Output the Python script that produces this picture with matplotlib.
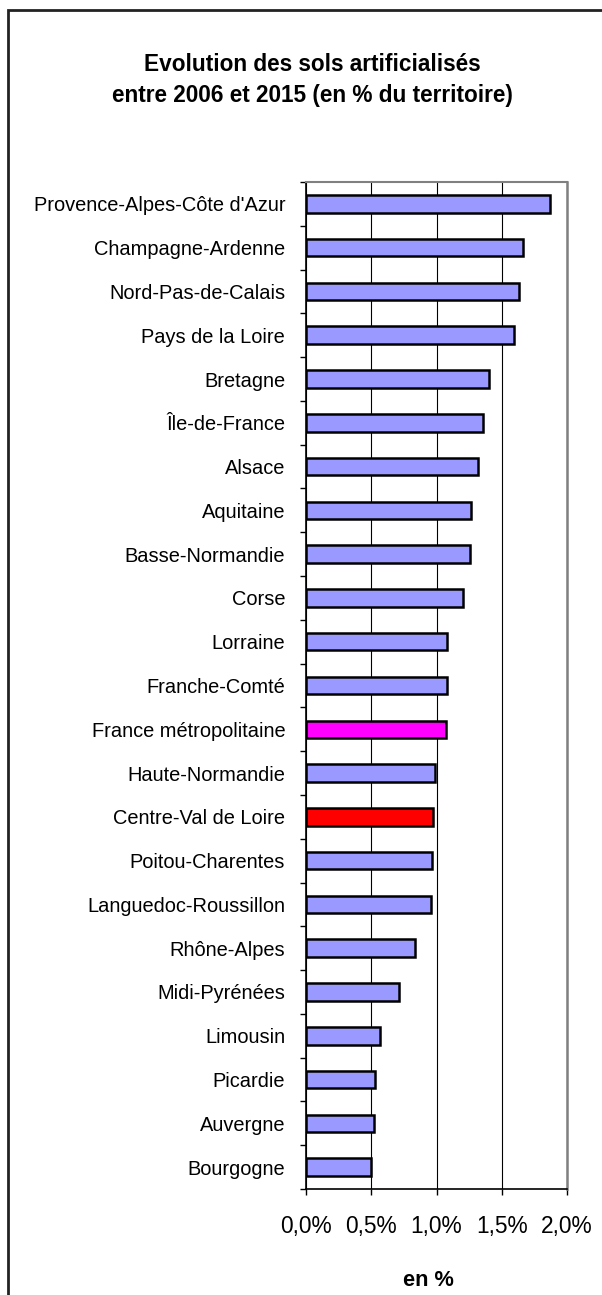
import matplotlib
matplotlib.use("Agg")
import matplotlib.pyplot as plt
from matplotlib.patches import Rectangle
from matplotlib.ticker import FixedLocator, FuncFormatter

plt.rcParams['font.family'] = ['Liberation Sans', 'DejaVu Sans']

regions = ["Provence-Alpes-Côte d'Azur", "Champagne-Ardenne", "Nord-Pas-de-Calais",
           "Pays de la Loire", "Bretagne", "Île-de-France", "Alsace", "Aquitaine",
           "Basse-Normandie", "Corse", "Lorraine", "Franche-Comté",
           "France métropolitaine", "Haute-Normandie", "Centre-Val de Loire",
           "Poitou-Charentes", "Languedoc-Roussillon", "Rhône-Alpes", "Midi-Pyrénées",
           "Limousin", "Picardie", "Auvergne", "Bourgogne"]
values = [1.87, 1.665, 1.635, 1.594, 1.40, 1.356, 1.318, 1.264,
          1.257, 1.203, 1.08, 1.08,
          1.073, 0.988, 0.973,
          0.966, 0.958, 0.835, 0.713,
          0.567, 0.526, 0.518, 0.496]
xticks = [0.0, 0.5, 1.0, 1.5, 2.0]
title = "Evolution des sols artificialisés\nentre 2006 et 2015 (en % du territoire)"
xlabel = "en %"

colors = []
for r in regions:
    if r == "France métropolitaine":
        colors.append("#FF00FF")
    elif r == "Centre-Val de Loire":
        colors.append("#FF0000")
    else:
        colors.append("#9999FF")

W, H = 602, 1295
fig = plt.figure(figsize=(W / 100, H / 100), dpi=100)
ax = fig.add_axes([306 / W, 1 - 1189 / H, (567 - 306) / W, (1189 - 182) / H])

n = len(regions)
ypos = list(range(n))
ax.barh(ypos, values, height=0.4, color=colors, edgecolor="black", linewidth=1.8, zorder=3)
ax.set_ylim(n - 0.5, -0.5)
ax.set_xlim(0, 2.0)

ax.xaxis.set_major_locator(FixedLocator(xticks))
ax.xaxis.set_major_formatter(FuncFormatter(lambda v, p: f"{v:.1f}%".replace(".", ",")))
ax.tick_params(axis='x', direction='out', length=4.5, width=1, pad=14, labelsize=16.4)

ax.set_yticks([i + 0.5 for i in range(-1, n)], minor=False)
ax.set_yticklabels([])
ax.set_yticks(ypos, minor=True)
ax.set_yticklabels(regions, minor=True)
ax.tick_params(axis='y', which='major', direction='out', length=4.5, width=1)
ax.tick_params(axis='y', which='minor', length=0, pad=15, labelsize=14.4)

ax.grid(axis='x', color='black', linewidth=0.8, zorder=0)
ax.spines['left'].set_color('black')
ax.spines['bottom'].set_color('black')
ax.spines['left'].set_linewidth(1.2)
ax.spines['bottom'].set_linewidth(1.2)
ax.spines['top'].set_color('#808080')
ax.spines['right'].set_color('#808080')
ax.spines['top'].set_linewidth(1.5)
ax.spines['right'].set_linewidth(1.8)

fig.text(312 / W, 1 - 80 / H, title, ha='center', va='center', fontsize=16.3,
         fontweight='bold', linespacing=1.4)
fig.text(428 / W, 1 - 1280 / H, xlabel, ha='center', va='center', fontsize=15.7,
         fontweight='bold')

fig.patches.append(Rectangle((8 / W, -0.05), 1.2, 1 - 10 / H + 0.05,
                             transform=fig.transFigure, fill=False,
                             edgecolor='#222222', linewidth=2, clip_on=False))

fig.savefig("out.png", dpi=100)
